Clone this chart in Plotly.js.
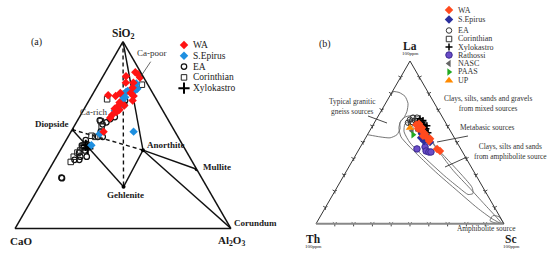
<!DOCTYPE html>
<html><head><meta charset="utf-8">
<script src="https://cdn.plot.ly/plotly-3.0.1.min.js"></script>
<style>html,body{margin:0;padding:0;background:#fff}#plot{width:550px;height:254px}</style>
</head><body><div id="plot"></div>
<script>
// ================= DATA =================
// Panel (a): SiO2 - CaO - Al2O3 (%)
const mineralNames  = ['SiO2', 'CaO', 'Corundum', 'Diopside', 'Anorthite', 'Gehlenite', 'Mullite'];
const mineralSiO2   = [100, 0, 0, 52.9, 41.9, 22.3, 31.7];
const mineralCaO    = [0, 100, 0, 47.1, 19.8, 38.6, 0];
const mineralAl2O3  = [0, 0, 100, 0, 38.3, 39.1, 68.3];
const solidTies  = [['SiO2','Anorthite'], ['Diopside','Gehlenite'], ['Gehlenite','Anorthite'], ['Anorthite','Mullite'], ['Anorthite','Corundum']];
const dashedTies = [['Diopside','Anorthite'], ['SiO2','Gehlenite']];
const markedMinerals = ['Diopside', 'Anorthite', 'Gehlenite', 'Mullite', 'Corundum'];

const aWA_SiO2  = [83.6,82.5,80.8,81.4,78.0,78.0,75.3,71.3,70.8,72.5,72.5,70.8,68.5,67.4,65.2,64.1,63.5,62.4,60.7,59.1,65.8,51.8];
const aWA_CaO   = [2.5,1.8,1.7,7.9,9.7,6.2,7.9,21.2,18.0,15.0,10.2,9.7,11.3,17.9,19.9,21.8,19.9,21.7,24.7,26.4,16.5,33.1];
const aWA_Al2O3 = [13.9,15.7,17.5,10.7,12.3,15.8,16.8,7.5,11.2,12.5,17.3,19.5,20.2,14.7,14.9,14.1,16.6,15.9,14.6,14.5,17.7,15.1];

const aSE_SiO2  = [77.5,74.7,74.1,73.0,73.6,70.8,70.2,68.5,65.8,63.0,51.8,50.7,44.5];
const aSE_CaO   = [5.1,6.0,7.2,12.1,11.0,14.9,13.9,16.1,18.3,22.3,19.2,35.4,42.4];
const aSE_Al2O3 = [17.4,19.3,18.7,14.9,15.4,14.3,15.9,15.4,15.9,14.7,29.0,13.9,13.1];

const aEA_SiO2  = [68.5,66.3,59.6,58.5,56.8,55.7,57.9,51.8,49.0,49.0,47.3,45.1,44.5,43.4,43.4,41.7,40.6,38.4,38.4,36.7,36.7,27.2,26.9];
const aEA_CaO   = [14.8,16.3,24.0,26.7,29.3,31.6,31.8,34.4,34.9,37.1,43.6,44.2,46.7,46.4,44.2,46.8,50.0,50.6,47.6,54.1,51.9,64.9,64.8];
const aEA_Al2O3 = [16.7,17.4,16.4,14.8,13.9,12.7,10.3,13.8,16.1,13.9,9.1,10.7,8.8,10.2,12.4,11.5,9.4,11.0,14.0,9.2,11.4,7.9,8.3];

const aCO_SiO2  = [76.9,69.1,57.4,54.6,49.0,49.6,44.5,44.0,41.7,40.6,38.4,35.6];
const aCO_CaO   = [2.8,22.8,31.6,32.6,38.4,39.8,44.1,47.0,49.0,50.8,53.6,56.4];
const aCO_Al2O3 = [20.3,8.1,11.0,12.8,12.6,10.6,11.4,9.0,9.3,8.6,8.0,8.0];

const aXY_SiO2  = [44.5,42.8];
const aXY_CaO   = [45.0,44.9];
const aXY_Al2O3 = [10.5,12.3];

// Panel (b): La - Th - Sc
const bWA_La = [60.9,61.5,59.0,57.1,55.3,54.0,52.8,50.9,52.2,46.0,44.7,58.4];
const bWA_Th = [16.3,14.5,14.1,15.1,14.4,16.1,14.5,14.4,13.2,12.6,11.7,16.5];
const bWA_Sc = [22.8,24.0,26.9,27.8,30.3,29.9,32.7,34.7,34.6,41.4,43.6,25.1];

const bSE_La = [55.3,52.8,52.8,51.6,50.3,50.9];
const bSE_Th = [16.0,17.7,15.6,15.2,14.2,17.1];
const bSE_Sc = [28.7,29.5,31.6,33.2,35.5,32.0];

const bEA_La = [64.0,65.2,65.2,63.4,62.1,63.4,61.5];
const bEA_Th = [18.0,15.8,13.7,13.0,20.0,15.6,18.7];
const bEA_Sc = [18.0,19.0,21.1,23.6,17.9,21.0,19.8];

const bCO_La = [62.7,61.5];
const bCO_Th = [17.6,12.3];
const bCO_Sc = [19.7,26.2];

const bXY_La = [62.7,62.1,60.9,59.6,59.0,58.4,57.1,56.5,57.1,55.9,60.2,60.2,64.6,63.4];
const bXY_Th = [14.4,13.1,12.1,14.9,13.6,12.3,16.7,15.4,13.5,12.5,12.5,10.9,12.4,11.4];
const bXY_Sc = [22.9,24.8,27.0,25.5,27.4,29.3,26.2,28.1,29.4,31.6,27.3,28.9,23.0,25.2];

const bRA_La = [46.0,47.2,44.7,44.1,44.1];
const bRA_Th = [23.3,18.4,19.1,17.9,16.8];
const bRA_Sc = [30.7,34.4,36.2,38.0,39.1];

const bNASC_La = [57.1], bNASC_Th = [20.4], bNASC_Sc = [22.5];
const bPAAS_La = [54.7], bPAAS_Th = [21.0], bPAAS_Sc = [24.3];
const bUP_La   = [59.0], bUP_Th   = [20.5], bUP_Sc   = [20.5];

// Source fields (b)
const fGranite_La = [54.7,53.4,52.8,54.7,58.4,62.1,65.2,68.9,73.9,78.3,80.7,81.4];
const fGranite_Th = [45.0,39.3,34.2,29.6,26.1,24.3,20.6,17.2,14.1,13.5,15.5,18.6];
const fGranite_Sc = [0.3,7.3,13.0,15.7,15.5,13.6,14.2,13.9,12.0,8.2,3.8,0];

const fMixed_La = [65.8,63.4,59.0,53.4,48.4,41.0,31.1,20.5,9.9,3.1,0,3.7,12.4,21.7,32.9,43.5,50.3,57.8,62.1,65.2,66.5,65.8];
const fMixed_Th = [19.3,23.1,26.4,28.1,26.9,24.2,20.1,14.8,9.4,4.8,1.1,1.9,4.5,7.2,10.7,12.3,13.2,11.5,11.0,12.1,15.1,19.3];
const fMixed_Sc = [14.9,13.5,14.6,18.5,24.7,34.8,48.8,64.7,80.7,92.1,98.9,94.4,83.1,71.1,56.4,44.2,36.5,30.7,26.9,22.7,18.4,14.9];

const fAmphClay_La = [61.5,56.5,49.7,40.4,29.2,21.7,18.0,18.6,22.4,29.8,39.8,47.2,53.4,59.0,62.7,63.4,61.5];
const fAmphClay_Th = [21.9,24.9,25.1,21.8,16.8,12.6,10.1,7.2,5.8,7.4,10.4,12.6,12.7,11.5,13.3,17.2,21.9];
const fAmphClay_Sc = [16.6,18.6,25.2,37.8,54.0,65.7,71.9,74.2,71.8,62.8,49.8,40.2,33.9,29.5,24.0,19.4,16.6];

const fAmph_La = [1.9,5.0,4.3,0.6,0.6,1.9];
const fAmph_Th = [6.5,3.4,0.5,0.3,4.5,6.5];
const fAmph_Sc = [91.6,91.6,95.2,99.1,94.9,91.6];

// Edge tick positions of panel (b) (10 % steps)
const edgeTicks = [10, 20, 30, 40, 50, 60, 70, 80, 90];

const legendA = ['WA', 'S.Epirus', 'EA', 'Corinthian', 'Xylokastro'];
const legendB = ['WA', 'S.Epirus', 'EA', 'Corinthian', 'Xylokastro', 'Rathossi', 'NASC', 'PAAS', 'UP'];

// ================= LAYOUT HELPERS =================
const W = 550, H = 254;
const SERIF = '"Liberation Serif", "Times New Roman", serif';
const px = x => x / W, py = y => 1 - y / H;
const triA = {l: [15, 228.5], r: [231, 228.5], t: [123, 41.5]};
const triB = {l: [316, 223.8], r: [504, 223.8], t: [410, 61]};
function tp(tri, a, b, c) {
  const s = a + b + c; a /= s; b /= s; c /= s;
  return [a * tri.t[0] + b * tri.l[0] + c * tri.r[0], a * tri.t[1] + b * tri.l[1] + c * tri.r[1]];
}
function mpos(name) {
  const i = mineralNames.indexOf(name);
  return tp(triA, mineralSiO2[i], mineralCaO[i], mineralAl2O3[i]);
}
function ann(text, x, y, size, opt) {
  return Object.assign({text: text, x: px(x), y: py(y), xref: 'paper', yref: 'paper', showarrow: false,
    xanchor: 'center', yanchor: 'middle', font: {family: SERIF, size: size, color: '#1a1a1a'}}, opt || {});
}
function seg(x0, y0, x1, y1, color, width) {
  return {type: 'line', xref: 'paper', yref: 'paper', x0: px(x0), y0: py(y0), x1: px(x1), y1: py(y1),
    line: {color: color || '#333', width: width || 1}};
}

// ================= STYLES =================
const stA = {
  'WA': {symbol: 'diamond', size: 6.5, color: '#ff1414'},
  'S.Epirus': {symbol: 'diamond', size: 6.5, color: '#1e8fe0'},
  'EA': {symbol: 'circle-open', size: 5.5, color: '#111', line: {width: 1.2}},
  'Corinthian': {symbol: 'square-open', size: 5.5, color: '#222', line: {width: 1}},
  'Xylokastro': {symbol: 'cross-thin-open', size: 8, color: '#000', line: {width: 2}}
};
const stB = {
  'WA': {symbol: 'diamond', size: 6.5, color: '#ff4a1e'},
  'S.Epirus': {symbol: 'diamond', size: 6.5, color: '#2b2f9e'},
  'EA': {symbol: 'circle-open', size: 5.5, color: '#333', line: {width: 1}},
  'Corinthian': {symbol: 'square-open', size: 5.5, color: '#333', line: {width: 1}},
  'Xylokastro': {symbol: 'cross-thin-open', size: 5, color: '#000', line: {width: 1.5}},
  'Rathossi': {symbol: 'circle', size: 6.5, color: '#6a4cc8', line: {color: '#3a2a90', width: 1}},
  'NASC': {symbol: 'triangle-left', size: 6.5, color: '#666'},
  'PAAS': {symbol: 'triangle-right', size: 6.5, color: '#22aa22'},
  'UP': {symbol: 'triangle-up', size: 7.5, color: '#ff8a00'}
};

// ================= TRACES =================
const traces = [];
function tie(pair, dashed) {
  const i = mineralNames.indexOf(pair[0]), j = mineralNames.indexOf(pair[1]);
  traces.push({type: 'scatterternary', subplot: 'ternary', mode: 'lines',
    a: [mineralSiO2[i], mineralSiO2[j]], b: [mineralCaO[i], mineralCaO[j]], c: [mineralAl2O3[i], mineralAl2O3[j]],
    line: {color: '#111', width: 1.4, dash: dashed ? '4px,3px' : 'solid'}, hoverinfo: 'skip'});
}
solidTies.forEach(p => tie(p, false));
dashedTies.forEach(p => tie(p, true));
{
  const idx = markedMinerals.map(n => mineralNames.indexOf(n));
  traces.push({type: 'scatterternary', subplot: 'ternary', mode: 'markers',
    a: idx.map(i => mineralSiO2[i]), b: idx.map(i => mineralCaO[i]), c: idx.map(i => mineralAl2O3[i]),
    marker: {size: 4, color: '#000'}, cliponaxis: true});
}
function ptsA(a, b, c, name) {
  traces.push({type: 'scatterternary', subplot: 'ternary', mode: 'markers', a: a, b: b, c: c, name: name, marker: stA[name], cliponaxis: true});
}
ptsA(aEA_SiO2, aEA_CaO, aEA_Al2O3, 'EA');
ptsA(aCO_SiO2, aCO_CaO, aCO_Al2O3, 'Corinthian');
ptsA(aXY_SiO2, aXY_CaO, aXY_Al2O3, 'Xylokastro');
ptsA(aSE_SiO2, aSE_CaO, aSE_Al2O3, 'S.Epirus');
ptsA(aWA_SiO2, aWA_CaO, aWA_Al2O3, 'WA');

// chevron ticks along the three edges of panel (b)
{
  const zeros = edgeTicks.map(() => 0);
  const rest = edgeTicks.map(v => 100 - v);
  const tick = (a, b, c, ang) => traces.push({type: 'scatterternary', subplot: 'ternary2', mode: 'markers', a: a, b: b, c: c,
    marker: {symbol: 'y-down', size: 3.2, angle: ang, color: '#333', line: {width: 0.9, color: '#333'}}, cliponaxis: false, hoverinfo: 'skip'});
  tick(zeros, edgeTicks, rest, 0);      // bottom edge (Th-Sc)
  tick(edgeTicks, rest, zeros, 120);    // left edge (La-Th)
  tick(edgeTicks, zeros, rest, 240);    // right edge (La-Sc)
}

function field(a, b, c) {
  traces.push({type: 'scatterternary', subplot: 'ternary2', mode: 'lines', a: a, b: b, c: c,
    line: {color: '#666', width: 0.9, shape: 'spline', smoothing: 0.6}, hoverinfo: 'skip'});
}
field(fGranite_La, fGranite_Th, fGranite_Sc);
field(fMixed_La, fMixed_Th, fMixed_Sc);
field(fAmphClay_La, fAmphClay_Th, fAmphClay_Sc);
field(fAmph_La, fAmph_Th, fAmph_Sc);

function ptsB(a, b, c, name) {
  traces.push({type: 'scatterternary', subplot: 'ternary2', mode: 'markers', a: a, b: b, c: c, name: name, marker: stB[name], cliponaxis: true});
}
ptsB(bEA_La, bEA_Th, bEA_Sc, 'EA');
ptsB(bCO_La, bCO_Th, bCO_Sc, 'Corinthian');
ptsB(bXY_La, bXY_Th, bXY_Sc, 'Xylokastro');
ptsB(bRA_La, bRA_Th, bRA_Sc, 'Rathossi');
ptsB(bSE_La, bSE_Th, bSE_Sc, 'S.Epirus');
ptsB(bWA_La, bWA_Th, bWA_Sc, 'WA');
ptsB(bNASC_La, bNASC_Th, bNASC_Sc, 'NASC');
ptsB(bPAAS_La, bPAAS_Th, bPAAS_Sc, 'PAAS');
ptsB(bUP_La, bUP_Th, bUP_Sc, 'UP');

// ---- custom compact legends (cartesian overlay in pixel space) ----
const annotations = [];
const legA = {x: 184, text: 191, y0: 45, dy: 10.8};
legendA.forEach((n, i) => {
  const y = legA.y0 + i * legA.dy;
  traces.push({type: 'scatter', mode: 'markers', x: [legA.x], y: [y], marker: stA[n], cliponaxis: false, hoverinfo: 'skip'});
  annotations.push(ann(n, legA.text, y, 9.5, {xanchor: 'left'}));
});
const legB = {x: 449, text: 456, rows: [10, 19.5, 30.5, 39, 47, 55, 63.5, 72, 80.5]};
legendB.forEach((n, i) => {
  const y = legB.rows[i];
  traces.push({type: 'scatter', mode: 'markers', x: [legB.x], y: [y], marker: stB[n], cliponaxis: false, hoverinfo: 'skip'});
  annotations.push(ann(n, legB.text, y, 8, {xanchor: 'left', font: {family: SERIF, size: 8, color: '#333'}}));
});

// ---- panel (a) labels ----
annotations.push(ann('(a)', 36.7, 41.7, 10));
annotations.push(ann('<b>SiO<sub>2</sub></b>', triA.t[0], triA.t[1] - 8, 11.5));
annotations.push(ann('<b>CaO</b>', triA.l[0] + 6, triA.l[1] + 12, 11));
annotations.push(ann('<b>Al<sub>2</sub>O<sub>3</sub></b>', triA.r[0], triA.r[1] + 12, 11));
{
  let p = mpos('Diopside');  annotations.push(ann('<b>Diopside</b>', p[0] - 1, p[1] - 6, 9, {xanchor: 'right'}));
  p = mpos('Anorthite');     annotations.push(ann('<b>Anorthite</b>', p[0] + 2, p[1] - 5, 9, {xanchor: 'left'}));
  p = mpos('Mullite');       annotations.push(ann('<b>Mullite</b>', p[0] + 4, p[1] - 2, 9, {xanchor: 'left'}));
  p = mpos('Gehlenite');     annotations.push(ann('<b>Gehlenite</b>', p[0] + 2, p[1] + 8, 9));
  p = mpos('Corundum');      annotations.push(ann('<b>Corundum</b>', p[0] + 1, p[1] - 6, 9, {xanchor: 'left'}));
  p = tp(triA, 93.7, 0, 6.3); annotations.push(ann('Ca-poor', p[0] + 5, p[1], 9, {xanchor: 'left', font: {family: SERIF, size: 9, color: '#333'}}));
  p = tp(triA, 62.4, 31.3, 6.3); annotations.push(ann('Ca-rich', p[0] - 3, p[1], 9, {font: {family: SERIF, size: 9, color: '#333'}}));
}
const shapes = [];
{
  const s = tp(triA, 89.2, 0, 10.8), e = tp(triA, 81.4, 1.0, 17.6);
  shapes.push(seg(s[0] + 16, s[1], e[0], e[1], '#444', 0.8));
}

// ---- panel (b) labels ----
const grey = {family: SERIF, size: 7.4, color: '#333'};
annotations.push(ann('(b)', 325, 44, 10));
annotations.push(ann('<b>La</b>', triB.t[0], triB.t[1] - 15, 11.5));
annotations.push(ann('100ppm', triB.t[0], triB.t[1] - 7.5, 5));
annotations.push(ann('<b>Th</b>', triB.l[0] - 3, triB.l[1] + 15, 11.5));
annotations.push(ann('100ppm', triB.l[0] - 3, triB.l[1] + 23, 5));
annotations.push(ann('<b>Sc</b>', triB.r[0] + 7, triB.r[1] + 15, 11.5));
annotations.push(ann('100ppm', triB.r[0] + 7, triB.r[1] + 23, 5));
annotations.push(ann('Typical granitic<br>gneiss sources', 352, 106.5, 7.4, {font: grey}));
annotations.push(ann('Clays, silts, sands and gravels<br>from mixed sources', 442, 104, 7.4, {xanchor: 'left', font: grey}));
annotations.push(ann('Metabasic sources', 458, 127, 7.4, {xanchor: 'left', font: grey}));
annotations.push(ann('Clays, silts and sands<br>from amphibolite source', 472, 151, 7.4, {xanchor: 'left', font: grey}));
annotations.push(ann('Amphibolite source', 486, 228, 7.4, {font: grey}));
shapes.push(seg(368, 116, 387, 123, '#333', 0.9));
shapes.push(seg(468, 136, 437, 142, '#333', 0.9));
shapes.push(seg(467, 157, 445, 167, '#333', 0.9));

// ================= AXES =================
const axA = {title: {text: ''}, showticklabels: false, showgrid: false, ticks: '', linecolor: '#111', linewidth: 1.5, min: 0};
const axB = {title: {text: ''}, showticklabels: false, showgrid: false, ticks: '', linecolor: '#333', linewidth: 1, min: 0};

const layout = {
  width: W, height: H, margin: {l: 0, r: 0, t: 0, b: 0},
  paper_bgcolor: '#fff', plot_bgcolor: 'rgba(0,0,0,0)', showlegend: false,
  xaxis: {range: [0, W], visible: false, fixedrange: true, domain: [0, 1]},
  yaxis: {range: [H, 0], visible: false, fixedrange: true, domain: [0, 1]},
  ternary: {domain: {x: [triA.l[0] / W, triA.r[0] / W], y: [py(triA.l[1]), py(triA.t[1])]}, sum: 100,
    bgcolor: 'rgba(0,0,0,0)', aaxis: axA, baxis: axA, caxis: axA},
  ternary2: {domain: {x: [triB.l[0] / W, triB.r[0] / W], y: [py(triB.l[1]), py(triB.t[1])]}, sum: 100,
    bgcolor: 'rgba(0,0,0,0)', aaxis: axB, baxis: Object.assign({}, axB, {linecolor: '#888', linewidth: 2}), caxis: axB},
  annotations: annotations, shapes: shapes
};
traces.forEach(t => { if (t.showlegend === undefined) t.showlegend = false; });
Plotly.newPlot('plot', traces, layout, {staticPlot: true, displayModeBar: false});
</script></body></html>
